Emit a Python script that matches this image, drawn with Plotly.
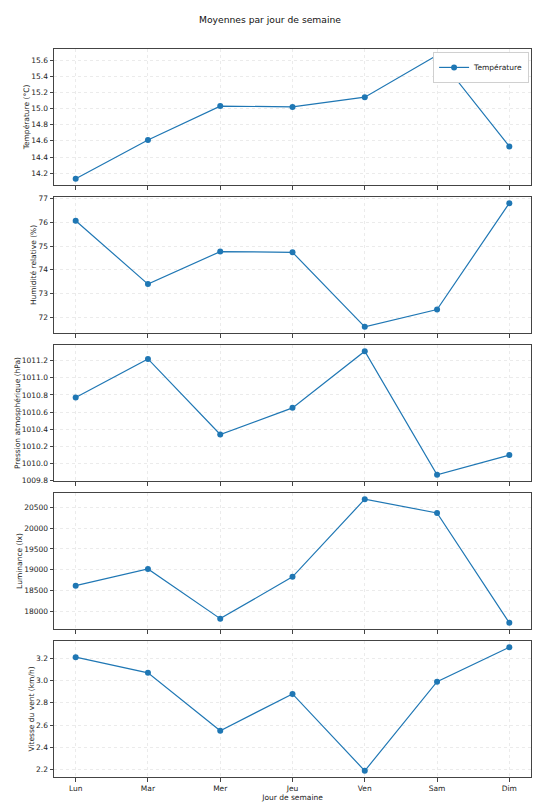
import plotly.graph_objects as go
from plotly.subplots import make_subplots

days = ["Lun", "Mar", "Mer", "Jeu", "Ven", "Sam", "Dim"]
temperature = [14.13, 14.61, 15.03, 15.02, 15.14, 15.66, 14.53]
humidite = [76.07, 73.40, 74.77, 74.74, 71.60, 72.33, 76.81]
pression = [1010.77, 1011.22, 1010.34, 1010.65, 1011.31, 1009.87, 1010.10]
luminance = [18620, 19020, 17830, 18830, 20690, 20360, 17730]
vent = [3.21, 3.07, 2.55, 2.88, 2.19, 2.99, 3.30]

series = [
    ("Température", temperature, "Température (°C)", 0.2, ".1f"),
    ("Humidité", humidite, "Humidité relative (%)", 1, "d"),
    ("Pression", pression, "Pression atmosphérique (hPa)", 0.2, ".1f"),
    ("Luminance", luminance, "Luminance (lx)", 500, "d"),
    ("Vent", vent, "Vitesse du vent (km/h)", 0.2, ".1f"),
]

color = "#1f77b4"
font = "DejaVu Sans, sans-serif"
fs = 7.5

fig = make_subplots(rows=5, cols=1, shared_xaxes=True, vertical_spacing=12 / 728)

for i, (name, vals, ytitle, dt, fmt) in enumerate(series, start=1):
    fig.add_trace(
        go.Scatter(
            x=list(range(len(days))), y=vals, mode="lines+markers", name=name,
            line=dict(color=color, width=1.2), marker=dict(color=color, size=6),
            showlegend=(i == 1),
        ),
        row=i, col=1,
    )
    lo, hi = min(vals), max(vals)
    m = (hi - lo) * 0.05
    fig.update_yaxes(
        range=[lo - m, hi + m], dtick=dt, tickformat=fmt,
        title=dict(text=ytitle, font=dict(size=fs, color="#222"), standoff=0),
        showline=True, linecolor="#444", linewidth=1, mirror=True,
        ticks="outside", ticklen=3.5, tickcolor="#444",
        showgrid=True, gridcolor="#ebebeb", griddash="dot", gridwidth=0.7,
        zeroline=False, tickfont=dict(size=fs, color="#222"),
        row=i, col=1,
    )
    fig.update_xaxes(
        range=[-0.3, 6.3], tickvals=list(range(len(days))), ticktext=days,
        showline=True, linecolor="#444", linewidth=1, mirror=True,
        ticks="outside", ticklen=3.5, tickcolor="#444",
        showgrid=True, gridcolor="#ebebeb", griddash="dot", gridwidth=0.7,
        zeroline=False, tickfont=dict(size=fs, color="#222"),
        row=i, col=1,
    )

fig.update_xaxes(title=dict(text="Jour de semaine", font=dict(size=fs, color="#222"), standoff=3), row=5, col=1)

fig.update_layout(
    width=524, height=794,
    margin=dict(l=46, r=1, t=41, b=25),
    paper_bgcolor="white", plot_bgcolor="white",
    font=dict(family=font, size=fs, color="#222"),
    title=dict(text="Moyennes par jour de semaine", x=(270 - 8) / 524, xanchor="center",
               y=1 - 12 / 794, yanchor="middle", font=dict(size=9.2, color="#111")),
    legend=dict(x=0.996, y=0.996, xanchor="right", yanchor="top",
                bgcolor="white", bordercolor="#d0d0d0", borderwidth=1,
                font=dict(size=fs), itemwidth=30, tracegroupgap=0),
)

fig.write_html("out.html")
